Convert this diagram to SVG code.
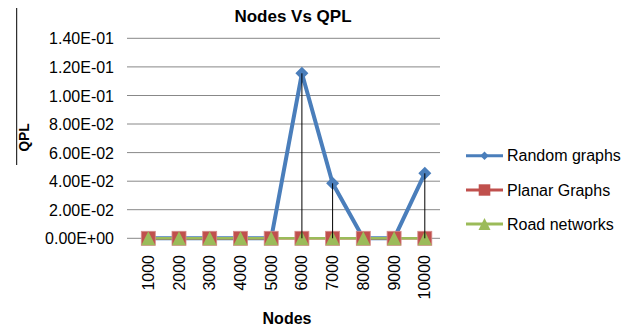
<svg xmlns="http://www.w3.org/2000/svg" width="633" height="333" viewBox="0 0 633 333">
<style>
text{font-family:"Liberation Sans",Arial,sans-serif;fill:#000}
.yl{font-size:16px;text-anchor:end}
.xl{font-size:16px;text-anchor:end}
.lg{font-size:16px}
.grid{stroke:#888;stroke-width:1}
.drop{stroke:#000;stroke-width:1}
.blue{fill:none;stroke:#4A7EBB;stroke-width:4;stroke-linejoin:round}
.red{fill:none;stroke:#C0504D;stroke-width:2.5}
.green{fill:none;stroke:#9BBB59;stroke-width:2.5}
</style>
<defs>
<path id="dia" d="M0,-6.5 L6.5,0 L0,6.5 L-6.5,0Z" fill="#4A7EBB"/>
<rect id="sq" x="-7" y="-7" width="14" height="14" fill="#C0504D" stroke="#D58C8A" stroke-width="0.8"/>
<path id="tri" d="M0,-7 L7,7 L-7,7Z" fill="#9BBB59"/>
</defs>
<rect width="633" height="333" fill="#fff"/>
<text x="293" y="21.7" font-size="17" font-weight="bold" text-anchor="middle">Nodes Vs QPL</text>
<line x1="16.7" y1="8" x2="16.7" y2="165" stroke="#000" stroke-width="1"/>
<text transform="translate(29.3,137.5) rotate(-90)" font-size="15" font-weight="bold" text-anchor="middle" textLength="28" lengthAdjust="spacingAndGlyphs">QPL</text>
<g id="grid">
<line class="grid" x1="127" y1="38.3" x2="440" y2="38.3"/>
<line class="grid" x1="127" y1="66.9" x2="440" y2="66.9"/>
<line class="grid" x1="127" y1="95.5" x2="440" y2="95.5"/>
<line class="grid" x1="127" y1="124" x2="440" y2="124"/>
<line class="grid" x1="127" y1="152.6" x2="440" y2="152.6"/>
<line class="grid" x1="127" y1="181.2" x2="440" y2="181.2"/>
<line class="grid" x1="127" y1="209.7" x2="440" y2="209.7"/>
<line class="grid" x1="127" y1="238.3" x2="440" y2="238.3"/>
</g>
<g id="yaxis">
<text class="yl" x="114" y="44.3">1.40E-01</text>
<text class="yl" x="114" y="72.9">1.20E-01</text>
<text class="yl" x="114" y="101.5">1.00E-01</text>
<text class="yl" x="114" y="130">8.00E-02</text>
<text class="yl" x="114" y="158.6">6.00E-02</text>
<text class="yl" x="114" y="187.2">4.00E-02</text>
<text class="yl" x="114" y="215.7">2.00E-02</text>
<text class="yl" x="114" y="244.3">0.00E+00</text>
</g>
<g id="xaxis">
<text class="xl" transform="translate(153.8,255) rotate(-90)">1000</text>
<text class="xl" transform="translate(184.5,255) rotate(-90)">2000</text>
<text class="xl" transform="translate(215.2,255) rotate(-90)">3000</text>
<text class="xl" transform="translate(246,255) rotate(-90)">4000</text>
<text class="xl" transform="translate(276.7,255) rotate(-90)">5000</text>
<text class="xl" transform="translate(307.4,255) rotate(-90)">6000</text>
<text class="xl" transform="translate(338.1,255) rotate(-90)">7000</text>
<text class="xl" transform="translate(368.8,255) rotate(-90)">8000</text>
<text class="xl" transform="translate(399.6,255) rotate(-90)">9000</text>
<text class="xl" transform="translate(430.3,255) rotate(-90)">10000</text>
<text x="287" y="324" font-size="16" font-weight="bold" text-anchor="middle">Nodes</text>
</g>
<g id="connectors">
<polyline class="blue" points="148.3,238.3 179,238.3 209.7,238.3 240.5,238.3 271.2,238.3 301.9,73.3 332.6,183.3 363.3,238.3 394.1,238.3 424.8,173.3"/>
<use href="#dia" x="301.9" y="73.3"/>
<use href="#dia" x="332.6" y="183.3"/>
<use href="#dia" x="424.8" y="173.3"/>
<line class="red" x1="148.3" y1="238.3" x2="424.8" y2="238.3"/>
<line class="green" x1="148.3" y1="238.3" x2="424.8" y2="238.3"/>
</g>
<g id="planar-markers">
<use href="#sq" x="148.3" y="238.3"/>
<use href="#sq" x="179" y="238.3"/>
<use href="#sq" x="209.7" y="238.3"/>
<use href="#sq" x="240.5" y="238.3"/>
<use href="#sq" x="271.2" y="238.3"/>
<use href="#sq" x="301.9" y="238.3"/>
<use href="#sq" x="332.6" y="238.3"/>
<use href="#sq" x="363.3" y="238.3"/>
<use href="#sq" x="394.1" y="238.3"/>
<use href="#sq" x="424.8" y="238.3"/>
</g>
<g id="road-markers">
<use href="#tri" x="148.3" y="238.3"/>
<use href="#tri" x="179" y="238.3"/>
<use href="#tri" x="209.7" y="238.3"/>
<use href="#tri" x="240.5" y="238.3"/>
<use href="#tri" x="271.2" y="238.3"/>
<use href="#tri" x="301.9" y="238.3"/>
<use href="#tri" x="332.6" y="238.3"/>
<use href="#tri" x="363.3" y="238.3"/>
<use href="#tri" x="394.1" y="238.3"/>
<use href="#tri" x="424.8" y="238.3"/>
</g>
<g id="droplines">
<line class="drop" x1="301.9" y1="73.3" x2="301.9" y2="238.3"/>
<line class="drop" x1="332.6" y1="183.3" x2="332.6" y2="238.3"/>
<line class="drop" x1="424.8" y1="173.3" x2="424.8" y2="238.3"/>
</g>
<g id="legend">
<g id="legend-random">
<line x1="466" y1="155.7" x2="503" y2="155.7" stroke="#4A7EBB" stroke-width="3"/>
<path d="M484.5,151.5 L488.7,155.7 L484.5,159.9 L480.3,155.7Z" fill="#4A7EBB"/>
<text class="lg" x="507" y="161.3">Random graphs</text>
</g>
<g id="legend-planar">
<line x1="466" y1="190" x2="503" y2="190" stroke="#C0504D" stroke-width="3"/>
<rect x="478.7" y="184.3" width="11.6" height="11.4" fill="#C0504D"/>
<text class="lg" x="507" y="195.7">Planar Graphs</text>
</g>
<g id="legend-road">
<line x1="466" y1="224" x2="503" y2="224" stroke="#9BBB59" stroke-width="3"/>
<path d="M484.5,218 L490.5,230 L478.5,230Z" fill="#9BBB59"/>
<text class="lg" x="507" y="230">Road networks</text>
</g>
</g>
</svg>
